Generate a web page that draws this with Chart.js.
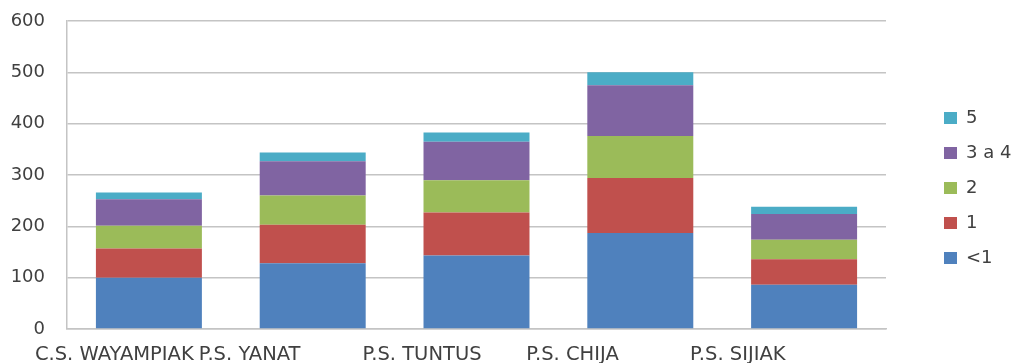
<!DOCTYPE html>
<html>
<head>
<meta charset="utf-8">
<script src="https://cdn.jsdelivr.net/npm/chart.js@4"></script>
<style>
  html, body { margin: 0; padding: 0; background: #ffffff; }
  #wrap { width: 1011px; height: 363px; }
</style>
</head>
<body>
<div id="wrap"><canvas id="chart" width="1011" height="363"></canvas></div>
<script>
// Establishments along the x axis
const categories = ['C.S. WAYAMPIAK', 'P.S. YANAT', 'P.S. TUNTUS', 'P.S. CHIJA', 'P.S. SIJIAK'];

// Stacked counts per group
const lessThan1 = [100, 128, 143, 187, 86];
const one       = [57, 75, 84, 107, 50];
const two       = [44, 57, 63, 82, 38];
const threeTo4  = [52, 67, 75, 99, 50];
const five      = [13, 17, 18, 25, 14];

// Value axis ticks
const yTicks = [0, 100, 200, 300, 400, 500, 600];

const textColor = '#404040';
const gridColor = '#c4c4c4';

const mk = (label, data, color) => ({
  label, data,
  backgroundColor: color,
  borderWidth: 0,
  barPercentage: 0.647,
  categoryPercentage: 1.0
});

new Chart(document.getElementById('chart'), {
  type: 'bar',
  data: {
    labels: categories,
    datasets: [
      mk('<1', lessThan1, '#4F81BD'),
      mk('1', one, '#C0504D'),
      mk('2', two, '#9BBB59'),
      mk('3 a 4', threeTo4, '#8064A2'),
      mk('5', five, '#4BACC6')
    ]
  },
  options: {
    responsive: false,
    animation: false,
    layout: { padding: { left: 11, top: 21, right: 0, bottom: 0 } },
    plugins: {
      tooltip: { enabled: false },
      legend: {
        position: 'right',
        fullSize: false,
        reverse: true,
        maxWidth: 84,
        // blank title used as a spacer above the legend column
        title: {
          display: true,
          text: ' ',
          font: { size: 10, lineHeight: 1.2 },
          padding: { top: 7, bottom: 7 }
        },
        labels: {
          boxWidth: 13,
          boxHeight: 12,
          padding: 17,
          color: textColor,
          font: { family: 'DejaVu Sans', size: 18 }
        }
      }
    },
    scales: {
      x: {
        stacked: true,
        grid: { display: false, drawTicks: false },
        border: { display: true, color: gridColor, width: 1.5 },
        ticks: {
          align: 'start',
          labelOffset: -114,
          padding: 16,
          maxRotation: 0,
          autoSkip: false,
          color: textColor,
          font: { family: 'DejaVu Sans', size: 19.5, lineHeight: 1 }
        },
        afterFit: (scale) => {
          scale.height = 34;
          scale.paddingLeft = 0;
          scale.paddingRight = 0;
        }
      },
      y: {
        stacked: true,
        min: yTicks[0],
        max: yTicks[yTicks.length - 1],
        afterBuildTicks: (scale) => { scale.ticks = yTicks.map(v => ({ value: v })); },
        grid: { color: gridColor, lineWidth: 1.5, drawTicks: false },
        border: { display: true, color: gridColor, width: 1.5 },
        ticks: {
          padding: 22,
          color: textColor,
          font: { family: 'DejaVu Sans', size: 18 }
        },
        afterFit: (scale) => {
          scale.width = 56;
          scale.paddingTop = 0;
          scale.paddingBottom = 0;
        }
      },
      gap: {
        position: 'right',
        min: 0,
        max: 1,
        grid: { display: false, drawTicks: false },
        border: { display: false },
        ticks: { display: false },
        afterFit: (scale) => {
          scale.width = 41;
          scale.paddingTop = 0;
          scale.paddingBottom = 0;
        }
      }
    }
  }
});
</script>
</body>
</html>
